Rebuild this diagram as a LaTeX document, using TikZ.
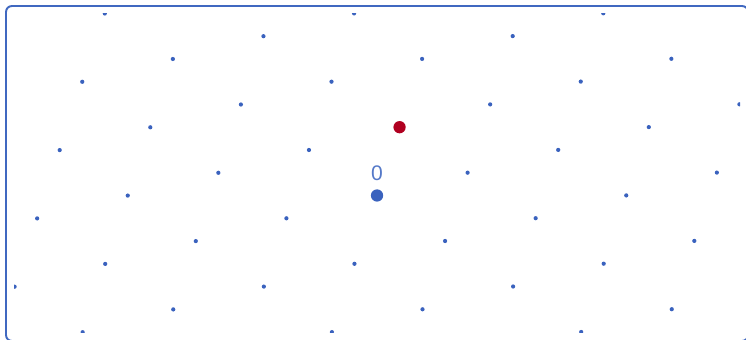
\documentclass[tikz,border=0pt]{standalone}
\usepackage{fontspec}
\setmainfont{Liberation Sans}
\usetikzlibrary{positioning,calc}

\definecolor{latblue}{HTML}{3A62BE}
\definecolor{framblue}{HTML}{4068C0}
\definecolor{labblue}{HTML}{5579C8}
\definecolor{pointred}{HTML}{B00020}

\begin{document}
\begin{tikzpicture}[
    x=0.02cm,
    y=-0.02cm,
    frame/.style={
        draw=framblue,
        line width=1.1pt,
        rounded corners=3.4pt
    },
    dot/.style={
        fill=latblue
    },
    bigdot/.style={
        circle,
        inner sep=0pt,
        minimum size=7pt
    },
    numlabel/.style={
        text=labblue,
        font=\fontsize{12pt}{12pt}\selectfont
    }
]

\useasboundingbox (0,0) rectangle (746,340);
\draw[frame] (6,6) rectangle (748,341);

\coordinate (origin) at (377,195.5);

% lattice points
\begin{scope}
\clip (14,13.3) rectangle (740,332.3);
\foreach \a in {-4,...,4}{
    \foreach \b in {-4,...,4}{
        \fill[dot] ($(origin)+(22.55*\a+90.6*\b,-68.3*\a-22.8*\b)$) circle (1.2pt);
    }
}
\end{scope}

\node[bigdot, fill=latblue] (zero) at (origin) {};
\node[bigdot, fill=pointred] (target) at ($(origin)+(22.55,-68.3)$) {};
\node[numlabel, above=1pt of zero] (zerolabel) {0};

\end{tikzpicture}
\end{document}
